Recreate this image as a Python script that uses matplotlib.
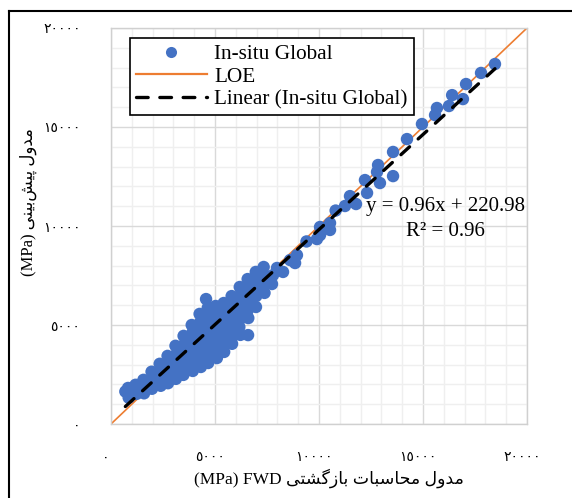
import numpy as np
import matplotlib
matplotlib.use("Agg")
import matplotlib.pyplot as plt
from matplotlib.lines import Line2D
from matplotlib.transforms import ScaledTranslation

# ---------------- data ----------------
x_sparse = [18460, 17790, 17070, 16400, 16920, 16250, 15670, 15580, 14950, 14230,
            13560, 12840, 12790, 13560, 12210, 12930, 12310, 11490, 11780, 11250,
            10800, 10530, 10050, 10530, 10050, 9900, 9400, 8940, 8610, 8850,
            7980, 8270, 7790]
y_sparse = [18180, 17730, 17170, 16610, 16410, 16060, 15960, 15600, 15150, 14390,
            13740, 13080, 12730, 12520, 12320, 12170, 11670, 11510, 11110, 11010,
            10780, 10150, 9950, 9800, 9540, 9340, 9220, 8530, 8280, 8130,
            7880, 7680, 7520]

x_cluster = [690, 820, 850,
             1180, 1230,
             1560, 1610, 1590,
             1950, 2000, 1970,
             2340, 2380, 2350, 2390,
             2720, 2760, 2730, 2770, 2740,
             3100, 3150, 3110, 3160, 3120,
             3490, 3530, 3500, 3540, 3510, 3480,
             3880, 3910, 3870, 3920, 3890, 3860, 3930,
             4260, 4300, 4270, 4310, 4250, 4290, 4280, 4320,
             4570,
             4650, 4690, 4640, 4680, 4660, 4700, 4640, 4670,
             5030, 5070, 5040, 5080, 5020, 5060, 5050, 5090,
             5420, 5450, 5410, 5460, 5430, 5400, 5440,
             5800, 5840, 5810, 5830, 5790, 5850, 5820,
             6190, 6220, 6180, 6230, 6200, 6170, 6220,
             6590,
             6570, 6600, 6580, 6610, 6560, 6600,
             6960, 6990, 6950, 6980, 6970,
             7340, 7370, 7350, 7380,
             7740]
y_cluster = [1640, 1820, 1330,
             1980, 1520,
             2230, 1830, 1550,
             2640, 2200, 1780,
             3040, 2620, 2230, 1930,
             3440, 3020, 2640, 2240, 2060,
             3950, 3540, 3120, 2730, 2280,
             4450, 4030, 3650, 3230, 2820, 2480,
             5000, 4600, 4190, 3790, 3380, 2980, 2680,
             5560, 5150, 4750, 4340, 3940, 3540, 3130, 2880,
             6310,
             5860, 5450, 5050, 4650, 4240, 3840, 3430, 3080,
             5960, 5560, 5150, 4750, 4340, 3940, 3530, 3330,
             6110, 5710, 5300, 4900, 4490, 4090, 3640,
             6460, 6060, 5660, 5250, 4850, 4440, 4050,
             6920, 6510, 6110, 5710, 5300, 4900, 4500,
             4490,
             7320, 6920, 6510, 6110, 5710, 5350,
             7680, 7270, 6870, 6460, 5910,
             7930, 7520, 7120, 6620,
             7070]

fit_slope = 0.96
fit_intercept = 220.98
eq_text = "y = 0.96x + 220.98"
r2_text = "R² = 0.96"

tick_values = [0, 5000, 10000, 15000, 20000]
tick_labels = ["٠", "٥٠٠٠", "١٠٠٠٠", "١٥٠٠٠", "٢٠٠٠٠"]

legend_labels = ["In-situ Global", "LOE", "Linear (In-situ Global)"]
xlabel_fa = "مدول محاسبات بازگشتی"
xlabel_lat = "(MPa) FWD "
ylabel_fa = "مدول پیش\u200cبینی"
ylabel_lat = "(MPa) "

# --------------- minimal Persian shaping (matplotlib has no bidi) -------------
FORMS = {
    'ا': (0xFE8D, 0xFE8E, None, None),
    'ب': (0xFE8F, 0xFE90, 0xFE91, 0xFE92),
    'ت': (0xFE95, 0xFE96, 0xFE97, 0xFE98),
    'ح': (0xFEA1, 0xFEA2, 0xFEA3, 0xFEA4),
    'د': (0xFEA9, 0xFEAA, None, None),
    'ز': (0xFEAF, 0xFEB0, None, None),
    'س': (0xFEB1, 0xFEB2, 0xFEB3, 0xFEB4),
    'ش': (0xFEB5, 0xFEB6, 0xFEB7, 0xFEB8),
    'ل': (0xFEDD, 0xFEDE, 0xFEDF, 0xFEE0),
    'م': (0xFEE1, 0xFEE2, 0xFEE3, 0xFEE4),
    'ن': (0xFEE5, 0xFEE6, 0xFEE7, 0xFEE8),
    'و': (0xFEED, 0xFEEE, None, None),
    'پ': (0xFB56, 0xFB57, 0xFB58, 0xFB59),
    'گ': (0xFB92, 0xFB93, 0xFB94, 0xFB95),
    'ی': (0xFBFC, 0xFBFD, 0xFBFE, 0xFBFF),
}


def shape_rtl(text):
    out = []
    for i, ch in enumerate(text):
        if ch == '\u200c':
            continue
        if ch not in FORMS:
            out.append(ch)
            continue
        prev = text[i - 1] if i > 0 else None
        nxt = text[i + 1] if i + 1 < len(text) else None
        jp = prev in FORMS and FORMS[prev][2] is not None
        jn = nxt in FORMS and FORMS[ch][2] is not None
        iso, fin, ini, med = FORMS[ch]
        if jp and jn:
            c = med
        elif jp:
            c = fin
        elif jn:
            c = ini
        else:
            c = iso
        out.append(chr(c))
    return ''.join(out)[::-1]


# ---------------- figure ----------------
W, H = 572, 498
fig = plt.figure(figsize=(W / 100, H / 100), dpi=100)
ax = fig.add_axes([111 / W, 1 - 424 / H, 416 / W, 396 / H])

serif = ['Liberation Serif', 'DejaVu Sans']

ax.set_xlim(0, 20000)
ax.set_ylim(0, 20000)
ax.set_xticks(tick_values)
ax.set_yticks(tick_values)
ax.set_xticks(np.arange(0, 20001, 1000), minor=True)
ax.set_yticks(np.arange(0, 20001, 1000), minor=True)
ax.set_xticklabels(tick_labels, fontfamily='DejaVu Sans', fontsize=10)
ax.set_yticklabels(tick_labels, fontfamily='DejaVu Sans', fontsize=10)
ax.tick_params(which='both', length=0)
ax.tick_params(axis='x', pad=19)
ax.tick_params(axis='y', pad=22)
for lab in ax.get_xticklabels():
    lab.set_transform(lab.get_transform() + ScaledTranslation(-0.05, 0, fig.dpi_scale_trans))

ax.grid(which='major', color='#D9D9D9', linewidth=1.0)
ax.grid(which='minor', color='#EFEFEF', linewidth=1.0)
ax.set_axisbelow(True)
for sp in ax.spines.values():
    sp.set_color('#D0D0D0')
    sp.set_linewidth(1.0)

# LOE line
ax.plot([0, 20000], [0, 20000], color='#ED7D31', linewidth=1.2, zorder=2)

# scatter
xs = np.array(x_cluster + x_sparse, dtype=float)
ys = np.array(y_cluster + y_sparse, dtype=float)
ax.scatter(xs, ys, s=80, color='#4472C4', edgecolors='none', zorder=3)

# trendline
xf = np.array([xs.min(), xs.max()])
ax.plot(xf, fit_slope * xf + fit_intercept, color='black', linewidth=2.4,
        linestyle=(0, (3.5, 3.5)), dash_capstyle='round', zorder=4)

ax.text(16100, 10960, eq_text, ha='center', va='center', fontsize=15,
        fontfamily=serif, zorder=5)
ax.text(16100, 9700, r2_text, ha='center', va='center', fontsize=15,
        fontfamily=serif, zorder=5)

# legend
handles = [
    Line2D([], [], linestyle='none', marker='o', markersize=8, color='#4472C4',
           markeredgecolor='none'),
    Line2D([], [], color='#ED7D31', linewidth=1.6),
    Line2D([], [], color='black', linewidth=2.4, linestyle=(0, (3.5, 3.5)),
           dash_capstyle='round'),
]
leg = ax.legend(handles, legend_labels, loc='upper left',
                bbox_to_anchor=((130 - 111) / 416, (424 - 38) / 396),
                borderaxespad=0, frameon=True, fancybox=False,
                prop={'family': serif, 'size': 15.3}, borderpad=0.3,
                labelspacing=0.12, handlelength=3.3, handletextpad=0.35)
leg.get_frame().set_edgecolor('black')
leg.get_frame().set_linewidth(1.2)
leg.get_frame().set_alpha(1)
leg.set_zorder(6)

# axis titles
fig.text(329 / W, 1 - 478 / H, xlabel_lat + shape_rtl(xlabel_fa), ha='center',
         va='center', fontsize=12.5, fontfamily=serif)
fig.text(28 / W, 1 - 202 / H, ylabel_lat + shape_rtl(ylabel_fa), ha='center',
         va='center', fontsize=12, fontfamily=serif, rotation=90)

# outer chart border (left and top edges visible)
fig.add_artist(Line2D([8.5 / W, 8.5 / W], [0, 1 - 11 / H], transform=fig.transFigure,
                      color='black', linewidth=1.5))
fig.add_artist(Line2D([8.5 / W, 1], [1 - 11 / H, 1 - 11 / H], transform=fig.transFigure,
                      color='black', linewidth=1.5))

fig.savefig('out.png', dpi=100)
